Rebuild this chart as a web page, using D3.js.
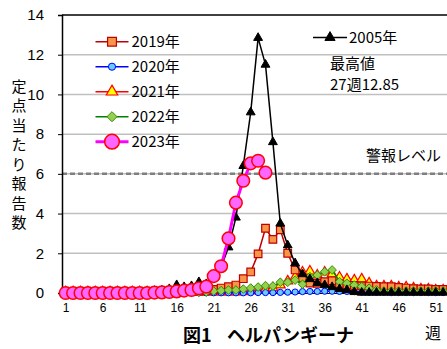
<!DOCTYPE html>
<html><head><meta charset="utf-8">
<script src="https://cdn.jsdelivr.net/npm/d3@7"></script>
<style>body{margin:0;background:#fff;}svg{display:block;font-family:"Noto Sans CJK JP","Noto Sans",sans-serif;}</style>
</head><body>
<script>
const yTicks = [0,2,4,6,8,10,12,14];
const xTickLabels = [1,6,11,16,21,26,31,36,41,46,51];
const alertLevel = 6;
const s2005 = [0.05,0.05,0.05,0.05,0.05,0.05,0.05,0.05,0.05,0.05,0.05,0.08,0.1,0.12,0.2,0.4,0.3,0.35,0.55,0.45,0.8,1.3,2.3,3.8,6.4,9.1,12.85,11.5,7.6,3.5,2.4,1.5,0.95,0.7,0.5,0.4,0.3,0.2,0.15,0.05,0.02,0.02,0.02,0.02,0.02,0.02,0.02,0.02,0.02,0.02,0.02,0.02];
const s2019 = [0.05,0.05,0.05,0.05,0.05,0.05,0.05,0.05,0.05,0.05,0.05,0.05,0.05,0.05,0.05,0.05,0.08,0.08,0.1,0.12,0.18,0.25,0.32,0.4,0.72,1.06,1.97,3.26,2.7,3.18,2.0,1.16,0.75,0.5,0.49,0.57,0.62,0.45,0.4,0.38,0.36,0.35,0.33,0.32,0.32,0.28,0.25,0.22,0.2,0.2,0.18,0.18];
const s2020 = [0.05,0.05,0.05,0.05,0.04,0.04,0.03,0.03,0.03,0.02,0.02,0.02,0.01,0.01,0.01,0.01,0.01,0.01,0.01,0.01,0.01,0.01,0.01,0.01,0.01,0.01,0.02,0.02,0.02,0.03,0.04,0.05,0.07,0.08,0.08,0.09,0.09,0.08,0.08,0.07,0.04,0.03,0.03,0.03,0.02,0.02,0.02,0.02,0.02,0.02,0.02,0.02,0.02];
const s2021 = [0.05,0.05,0.05,0.05,0.05,0.05,0.05,0.05,0.05,0.05,0.05,0.05,0.05,0.05,0.05,0.05,0.05,0.05,0.05,0.05,0.05,0.05,0.05,0.05,0.06,0.1,0.15,0.2,0.25,0.4,0.6,0.8,1.05,1.1,0.9,1.05,0.95,0.8,0.7,0.65,0.7,0.5,0.35,0.35,0.35,0.3,0.3,0.25,0.2,0.2,0.15,0.15];
const s2022 = [0.02,0.02,0.02,0.02,0.02,0.02,0.02,0.02,0.02,0.02,0.02,0.02,0.02,0.02,0.02,0.03,0.03,0.04,0.04,0.05,0.1,0.12,0.15,0.15,0.2,0.25,0.3,0.37,0.35,0.54,0.54,0.65,0.44,0.82,0.9,1.07,1.16,0.57,0.49,0.4,0.32,0.24,0.15,0.1,0.1,0.1,0.1,0.1,0.1,0.1,0.1,0.1];
const s2023 = [0.0,0.0,0.0,0.0,0.0,0.0,0.0,0.0,0.0,0.0,0.0,0.0,0.02,0.03,0.05,0.08,0.12,0.15,0.24,0.32,0.85,1.35,2.75,4.55,5.65,6.53,6.66,6.06];

const W = 447, H = 349;
const svg = d3.select("body").append("svg").attr("width", W).attr("height", H);
const x = d3.scaleLinear().domain([0.5, 53.5]).range([62, 62 + 53*7.4]);
const y = d3.scaleLinear().domain([0, 14]).range([293, 15]);

svg.append("g").selectAll("line").data(yTicks.filter(d => d > 0 && d < 14)).join("line")
  .attr("x1", x(0.5)).attr("x2", W + 20).attr("y1", d => y(d)).attr("y2", d => y(d))
  .attr("stroke", "#c0c0c0").attr("stroke-width", 1.5);
svg.append("line").attr("x1", x(0.5)).attr("x2", W + 20).attr("y1", y(alertLevel)).attr("y2", y(alertLevel))
  .attr("stroke", "#7f7f7f").attr("stroke-width", 2.5).attr("stroke-dasharray", "5,3");
svg.append("line").attr("x1", x(0.5)).attr("x2", W + 20).attr("y1", y(14)).attr("y2", y(14))
  .attr("stroke", "#000").attr("stroke-width", 1.5);

const yAxis = svg.append("g").attr("transform", `translate(${x(0.5)},0)`)
  .call(d3.axisLeft(y).tickValues(yTicks).tickSize(4).tickPadding(14).tickFormat(d3.format("d")));
yAxis.select(".domain").attr("stroke", "#000").attr("stroke-width", 1.5);
yAxis.selectAll("text").attr("font-size", 15).attr("fill", "#000").attr("font-family", "Liberation Sans, Arial, sans-serif");
const xAxis = svg.append("g").attr("transform", `translate(0,${y(0)})`)
  .call(d3.axisBottom(x).tickValues(xTickLabels).tickSize(0).tickPadding(10).tickFormat(d3.format("d")));
xAxis.select(".domain").attr("stroke", "#000").attr("stroke-width", 1);
xAxis.selectAll("text").attr("font-size", 12).attr("fill", "#000").attr("font-family", "Liberation Sans, Arial, sans-serif");

const line = d3.line().x((d, i) => x(i + 1)).y(d => y(d));
function drawMarker(g, type, size, fill, stroke, sw, cx, cy) {
  g.append("path").attr("d", d3.symbol().type(type).size(size)())
    .attr("transform", `translate(${cx},${cy})`)
    .attr("fill", fill).attr("stroke", stroke).attr("stroke-width", sw);
}
const series = [
  {name:"2021年", data:s2021, line:"#ff0000", lw:1.5, type:d3.symbolTriangle, size:42, fill:"#ffff00", stroke:"#ff0000", sw:1.2},
  {name:"2020年", data:s2020, line:"#0000ff", lw:1.5, type:d3.symbolCircle, size:30, fill:"#66ccff", stroke:"#0000ff", sw:1},
  {name:"2019年", data:s2019, line:"#c00000", lw:1.5, type:d3.symbolSquare, size:58, fill:"#f79646", stroke:"#c00000", sw:1.2},
  {name:"2022年", data:s2022, line:"#008000", lw:1.5, type:d3.symbolDiamond2, size:48, fill:"#92d050", stroke:"#3c8c00", sw:1},
  {name:"2005年", data:s2005, line:"#000000", lw:1.5, type:d3.symbolTriangle, size:34, fill:"#000", stroke:"#000", sw:1},
  {name:"2023年", data:s2023, line:"#ff00ff", lw:3, type:d3.symbolCircle, size:125, fill:"#ff66ff", stroke:"#ff0000", sw:1.5}
];
series.forEach(s => {
  const g = svg.append("g");
  g.append("path").datum(s.data).attr("d", line).attr("fill", "none").attr("stroke", s.line).attr("stroke-width", s.lw);
  s.data.forEach((v, i) => drawMarker(g, s.type, s.size, s.fill, s.stroke, s.sw, x(i + 1), y(v)));
});

const legendOrder = ["2019年","2020年","2021年","2022年","2023年"];
legendOrder.forEach((nm, i) => {
  const s = series.find(d => d.name === nm);
  const ly = 41.7 + i * 25;
  const g = svg.append("g");
  g.append("line").attr("x1", 95.5).attr("x2", 128.5).attr("y1", ly).attr("y2", ly).attr("stroke", s.line).attr("stroke-width", s.lw);
  drawMarker(g, s.type, s.size * 1.35, s.fill, s.stroke, s.sw, 112, ly);
  g.append("text").attr("x", 131.5).attr("y", ly).attr("dy", "0.36em").attr("font-size", 15).text(nm);
});
{
  const g = svg.append("g");
  g.append("line").attr("x1", 313).attr("x2", 347).attr("y1", 37.5).attr("y2", 37.5).attr("stroke", "#000").attr("stroke-width", 1.5);
  drawMarker(g, d3.symbolTriangle, 45, "#000", "#000", 1, 330, 37.5);
  g.append("text").attr("x", 349).attr("y", 37.5).attr("dy", "0.36em").attr("font-size", 15).text("2005年");
}
svg.append("text").attr("x", 330).attr("y", 63.5).attr("dy", "0.36em").attr("font-size", 15).text("最高値");
svg.append("text").attr("x", 330).attr("y", 85).attr("dy", "0.36em").attr("font-size", 15).text("27週12.85");
svg.append("text").attr("x", 366).attr("y", 156).attr("dy", "0.36em").attr("font-size", 15).text("警報レベル");

const yTitle = "定点当たり報告数".split("");
svg.append("g").selectAll("text").data(yTitle).join("text")
  .attr("x", 19).attr("y", (d, i) => 86.5 + i * 19.5).attr("dy", "0.36em")
  .attr("text-anchor", "middle").attr("font-size", 15).text(d => d);

svg.append("text").attr("x", 183).attr("y", 342).attr("font-size", 18).attr("font-weight", "bold").text("図1");
svg.append("text").attr("x", 227).attr("y", 342).attr("font-size", 18).attr("font-weight", "bold").text("ヘルパンギーナ");
svg.append("text").attr("x", 425).attr("y", 339).attr("font-size", 16).text("週");
</script>
</body></html>
